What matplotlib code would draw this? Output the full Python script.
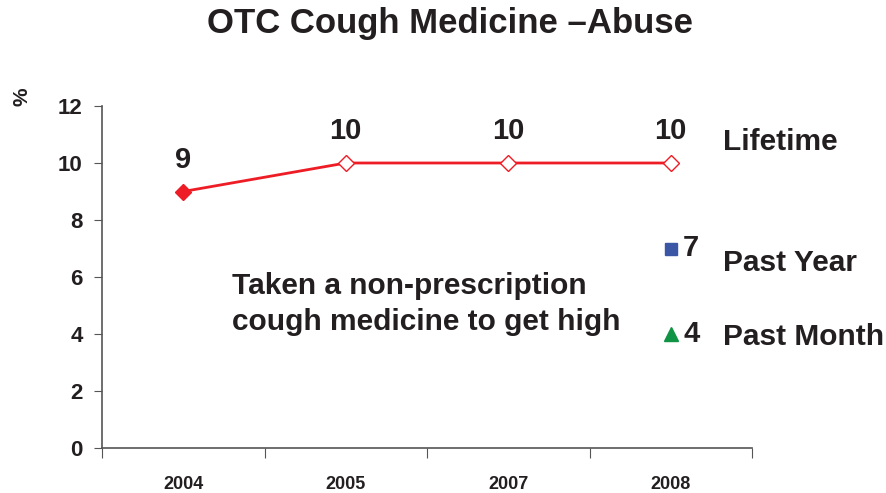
import matplotlib
matplotlib.use("Agg")
import matplotlib.pyplot as plt

plt.rcParams['font.family'] = ['Liberation Sans', 'DejaVu Sans']

years = ["2004", "2005", "2007", "2008"]
lifetime = [9, 10, 10, 10]
past_year = 7
past_month = 4
yticks = [0, 2, 4, 6, 8, 10, 12]

red = "#ee1c25"
blue = "#3a56a5"
green = "#0f9445"
dark = "#231f20"

fig = plt.figure(figsize=(8.86, 4.93), dpi=100)
ax = fig.add_axes([102/886, 1-448/493, (752-102)/886, (448-106)/493])

x = list(range(len(years)))
ax.plot(x, lifetime, color=red, lw=2, zorder=2)
ax.plot(x[0], lifetime[0], marker="D", ms=8, color=red, ls="none", zorder=3)
ax.plot(x[1:], lifetime[1:], marker="D", ms=8, mfc="white", mec=red, mew=1,
        ls="none", zorder=3)
for xi, v in zip(x, lifetime):
    ax.annotate(str(v), (xi, v), xytext=(0, 23), textcoords="offset points",
                ha="center", va="center", fontsize=21, fontweight="bold", color=dark)

ax.plot(x[-1], past_year, marker="s", ms=9, color=blue, ls="none")
ax.plot(x[-1], past_month, marker="^", ms=10, color=green, ls="none")
ax.annotate(str(past_year), (x[-1], past_year), xytext=(9, 0), textcoords="offset points",
            ha="left", va="center", fontsize=21, fontweight="bold", color=dark)
ax.annotate(str(past_month), (x[-1], past_month), xytext=(9, 0), textcoords="offset points",
            ha="left", va="center", fontsize=21, fontweight="bold", color=dark)

fig.text(723/886, 1-142/493, "Lifetime", ha="left", va="center", fontsize=21.5,
         fontweight="bold", color=dark)
fig.text(723/886, 1-263/493, "Past Year", ha="left", va="center", fontsize=21.5,
         fontweight="bold", color=dark)
fig.text(723/886, 1-337/493, "Past Month", ha="left", va="center", fontsize=21.5,
         fontweight="bold", color=dark)

fig.text(232/886, 1-304/493, "Taken a non-prescription\ncough medicine to get high",
         ha="left", va="center", fontsize=21.5, fontweight="bold", color=dark,
         linespacing=1.35)

fig.text(0.508, 1-24/493, "OTC Cough Medicine \u2013Abuse", ha="center", va="center",
         fontsize=25, fontweight="bold", color=dark)
fig.text(22/886, 1-97/493, "%", rotation=90, ha="center", va="center",
         fontsize=15, fontweight="bold", color=dark)

ax.set_xlim(-0.5, len(years) - 0.5)
ax.set_ylim(0, 12)
ax.set_yticks(yticks)
ax.set_yticklabels([str(t) for t in yticks], fontsize=16, fontweight="bold", color=dark)
ax.set_xticks([i - 0.5 for i in range(len(years) + 1)])
ax.set_xticklabels([])
ax.set_xticks(x, minor=True)
ax.set_xticklabels(years, minor=True, fontsize=13, fontweight="bold", color=dark)
ax.tick_params(axis="x", which="minor", length=0, pad=20)
ax.tick_params(axis="x", which="major", length=7, color="#555555", direction="out")
ax.tick_params(axis="y", length=6, color="#555555", direction="out", pad=8)
for s in ["top", "right"]:
    ax.spines[s].set_visible(False)
for s in ["left", "bottom"]:
    ax.spines[s].set_color("#555555")
    ax.spines[s].set_linewidth(1.2)

fig.savefig("out.png", dpi=100)
